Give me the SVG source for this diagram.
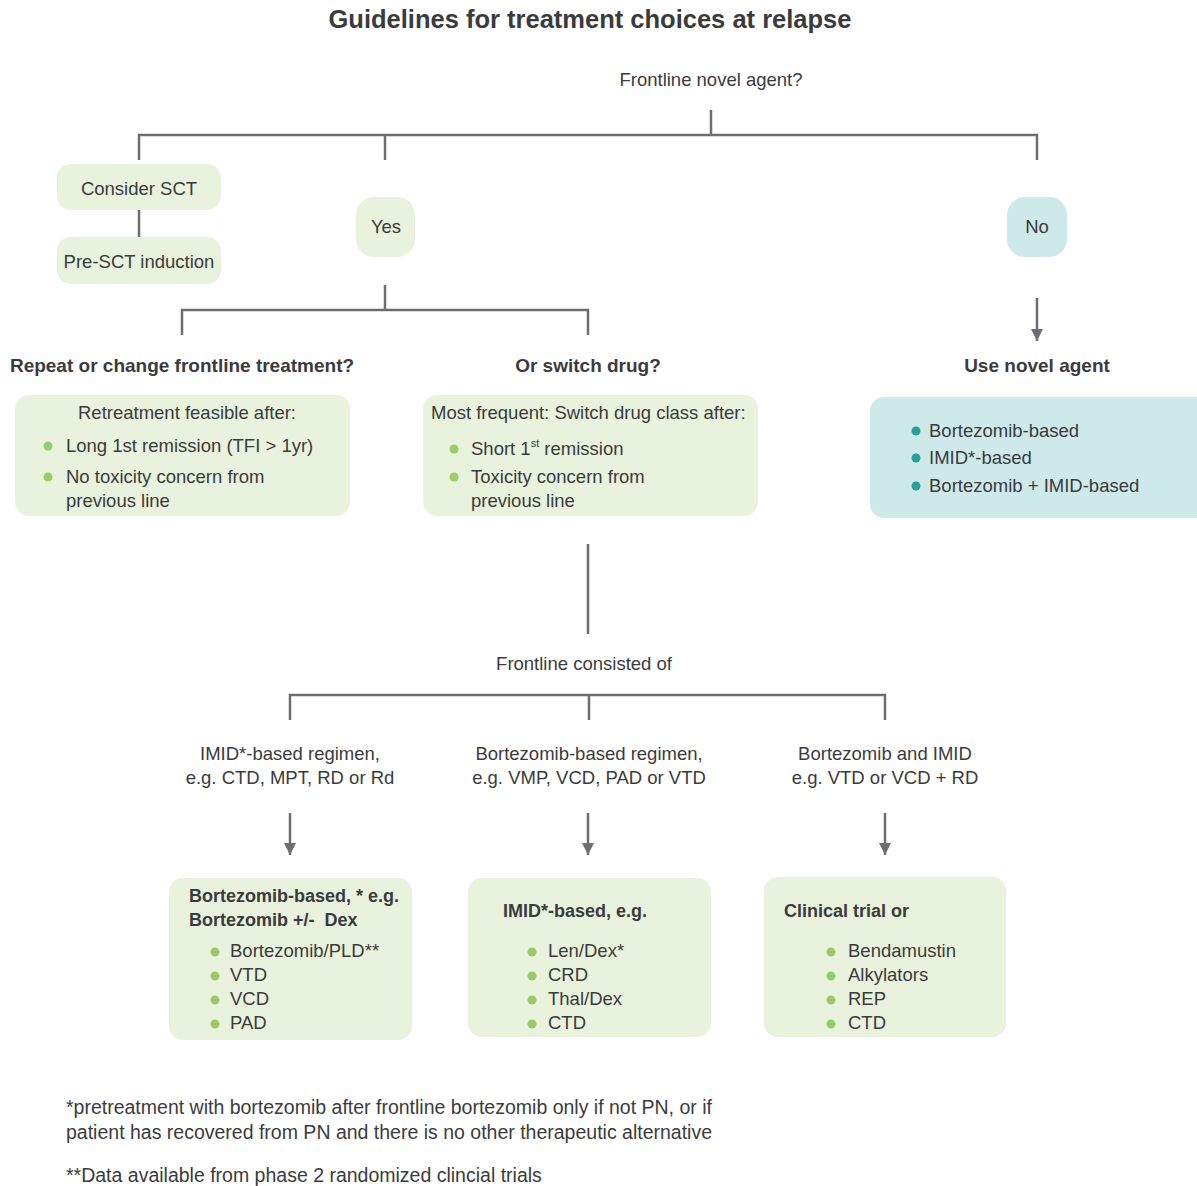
<svg xmlns="http://www.w3.org/2000/svg" width="1197" height="1186" viewBox="0 0 1197 1186">
<defs>
<style>
text{font-family:"Liberation Sans",Arial,sans-serif;font-size:18.5px;fill:#3b3b3d}
.t{font-size:25.5px;font-weight:bold}
.h{font-size:19px;font-weight:bold}
.hb{font-size:18px;font-weight:bold}
.c{text-anchor:middle}
.g{fill:#e8f2dc}
.b{fill:#cde9ea}
.gd{fill:#9dcb6b}
.td{fill:#2a9f98}
.ln{stroke:#6d6e71;stroke-width:2.5;fill:none}
.fn{font-size:19.5px}
</style>
<marker id="ad" markerWidth="14" markerHeight="12" refX="12" refY="6" orient="auto" markerUnits="userSpaceOnUse">
<path d="M0,0 L12,6 L0,12 z" fill="#6d6e71"/>
</marker>
</defs>
<rect width="1197" height="1186" fill="#ffffff"/>
<text class="t c" x="590" y="28">Guidelines for treatment choices at relapse</text>

<g id="connectors">
<path class="ln" d="M711,110 V135 M139,160 V135 H1037 V160 M385,135 V160"/>
<path class="ln" d="M139,210 V237"/>
<path class="ln" d="M385,285 V310 M182,335 V310 H588 V335"/>
<path class="ln" d="M1037,298 V341" marker-end="url(#ad)"/>
<path class="ln" d="M588,544 V634"/>
<path class="ln" d="M290,720 V695 H885 V720 M589,695 V720"/>
<path class="ln" d="M290,813 V855" marker-end="url(#ad)"/>
<path class="ln" d="M588,813 V855" marker-end="url(#ad)"/>
<path class="ln" d="M885,813 V855" marker-end="url(#ad)"/>
</g>

<g id="q1"><text class="c" x="711" y="86">Frontline novel agent?</text></g>

<g id="consider-sct"><rect class="g" x="57" y="164" width="164" height="46" rx="14"/><text class="c" x="139" y="195">Consider SCT</text></g>
<g id="pre-sct"><rect class="g" x="57" y="237" width="164" height="47" rx="14"/><text class="c" x="139" y="268">Pre-SCT induction</text></g>
<g id="yes"><rect class="g" x="356" y="197" width="59" height="60" rx="18"/><text class="c" x="386" y="233">Yes</text></g>
<g id="no"><rect class="b" x="1007" y="197" width="60" height="60" rx="18"/><text class="c" x="1037" y="233">No</text></g>

<g id="repeat-head"><text class="h c" x="182" y="372">Repeat or change frontline treatment?</text></g>
<g id="switch-head"><text class="h c" x="588" y="372">Or switch drug?</text></g>
<g id="novel-head"><text class="h c" x="1037" y="372">Use novel agent</text></g>

<g id="repeat-box">
<rect class="g" x="15" y="395" width="335" height="121" rx="14"/>
<text class="c" x="187" y="419">Retreatment feasible after:</text>
<circle class="gd" cx="48" cy="446" r="4.5"/><text x="66" y="452">Long 1st remission (TFI &gt; 1yr)</text>
<circle class="gd" cx="48" cy="477" r="4.5"/><text x="66" y="483">No toxicity concern from</text>
<text x="66" y="507">previous line</text>
</g>

<g id="switch-box">
<rect class="g" x="423" y="395" width="335" height="121" rx="14"/>
<text x="431" y="419">Most frequent: Switch drug class after:</text>
<circle class="gd" cx="454" cy="449" r="4.5"/><text x="471" y="455">Short 1<tspan font-size="11" dy="-8">st</tspan><tspan dy="8"> remission</tspan></text>
<circle class="gd" cx="454" cy="477" r="4.5"/><text x="471" y="483">Toxicity concern from</text>
<text x="471" y="507">previous line</text>
</g>

<g id="novel-box">
<rect class="b" x="870" y="397" width="345" height="121" rx="14"/>
<circle class="td" cx="916" cy="431" r="4.5"/><text x="929" y="437">Bortezomib-based</text>
<circle class="td" cx="916" cy="458" r="4.5"/><text x="929" y="464">IMID*-based</text>
<circle class="td" cx="916" cy="486" r="4.5"/><text x="929" y="492">Bortezomib + IMID-based</text>
</g>

<g id="q2"><text class="c" x="584" y="670">Frontline consisted of</text></g>

<g id="imid-regimen"><text class="c" x="290" y="760">IMID*-based regimen,</text><text class="c" x="290" y="784">e.g. CTD, MPT, RD or Rd</text></g>
<g id="bort-regimen"><text class="c" x="589" y="760">Bortezomib-based regimen,</text><text class="c" x="589" y="784">e.g. VMP, VCD, PAD or VTD</text></g>
<g id="both-regimen"><text class="c" x="885" y="760">Bortezomib and IMID</text><text class="c" x="885" y="784">e.g. VTD or VCD + RD</text></g>

<g id="bort-box">
<rect class="g" x="169" y="878" width="243" height="162" rx="14"/>
<text class="hb" x="189" y="902">Bortezomib-based, * e.g.</text>
<text class="hb" x="189" y="926" xml:space="preserve">Bortezomib +/-  Dex</text>
<circle class="gd" cx="215" cy="952" r="4.5"/><text x="230" y="957">Bortezomib/PLD**</text>
<circle class="gd" cx="215" cy="976" r="4.5"/><text x="230" y="981">VTD</text>
<circle class="gd" cx="215" cy="1000" r="4.5"/><text x="230" y="1005">VCD</text>
<circle class="gd" cx="215" cy="1024" r="4.5"/><text x="230" y="1029">PAD</text>
</g>

<g id="imid-box">
<rect class="g" x="468" y="878" width="243" height="159" rx="14"/>
<text class="hb" x="503" y="917">IMID*-based, e.g.</text>
<circle class="gd" cx="532" cy="952" r="4.5"/><text x="548" y="957">Len/Dex*</text>
<circle class="gd" cx="532" cy="976" r="4.5"/><text x="548" y="981">CRD</text>
<circle class="gd" cx="532" cy="1000" r="4.5"/><text x="548" y="1005">Thal/Dex</text>
<circle class="gd" cx="532" cy="1024" r="4.5"/><text x="548" y="1029">CTD</text>
</g>

<g id="trial-box">
<rect class="g" x="764" y="877" width="242" height="160" rx="14"/>
<text class="hb" x="784" y="917">Clinical trial or</text>
<circle class="gd" cx="831" cy="952" r="4.5"/><text x="848" y="957">Bendamustin</text>
<circle class="gd" cx="831" cy="976" r="4.5"/><text x="848" y="981">Alkylators</text>
<circle class="gd" cx="831" cy="1000" r="4.5"/><text x="848" y="1005">REP</text>
<circle class="gd" cx="831" cy="1024" r="4.5"/><text x="848" y="1029">CTD</text>
</g>

<g id="footnotes">
<text class="fn" x="66" y="1114">*pretreatment with bortezomib after frontline bortezomib only if not PN, or if</text>
<text class="fn" x="66" y="1139">patient has recovered from PN and there is no other therapeutic alternative</text>
<text class="fn" x="66" y="1182">**Data available from phase 2 randomized clincial trials</text>
</g>
</svg>
